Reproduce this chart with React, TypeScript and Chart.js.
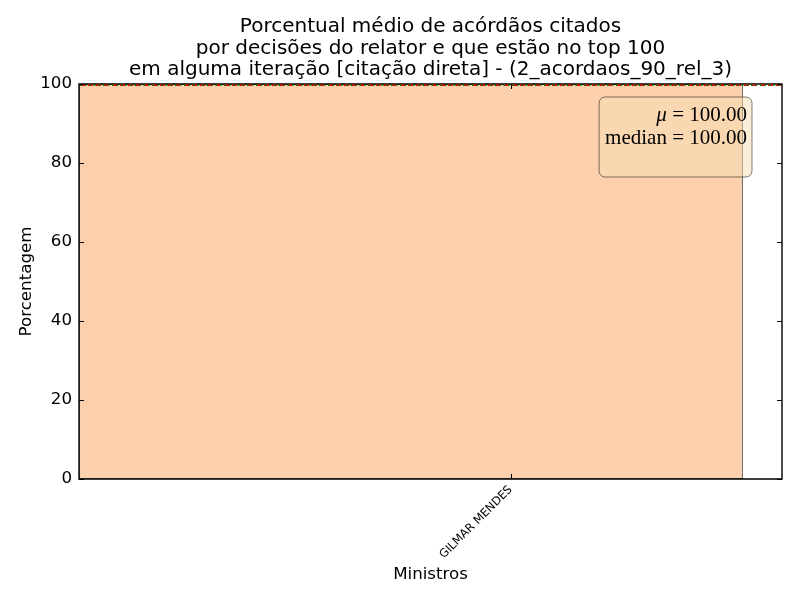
import React, { useEffect, useRef } from "react";
import { Chart, registerables } from "chart.js";

Chart.register(...registerables);

// ---- data ----
const CATEGORIES = ["GILMAR MENDES"];
const VALUES = [100];
const BAR_STARTS = [0];
const BAR_WIDTH = 0.8;
const TICK_POSITIONS = [0.52];
const X_MIN = 0;
const X_MAX = 0.847;
const Y_MIN = 0;
const Y_MAX = 100;
const Y_STEP = 20;
const TITLE_LINES = [
  "Porcentual médio de acórdãos citados",
  "por decisões do relator e que estão no top 100",
  "em alguma iteração [citação direta] - (2_acordaos_90_rel_3)",
];
const X_LABEL = "Ministros";
const Y_LABEL = "Porcentagem";

const mean = VALUES.reduce((a, b) => a + b, 0) / VALUES.length;
const sorted = [...VALUES].sort((a, b) => a - b);
const median =
  sorted.length % 2
    ? sorted[(sorted.length - 1) / 2]
    : (sorted[sorted.length / 2 - 1] + sorted[sorted.length / 2]) / 2;

const SANS = "'DejaVu Sans', sans-serif";
const SERIF = "'Liberation Serif', serif";
const BOX_FS = 21;

const overlayPlugin = {
  id: "overlay",
  afterDraw(chart: any) {
    const { ctx, chartArea } = chart;
    const { left, right, top, bottom } = chartArea;
    const ys = chart.scales.y;
    const xs = chart.scales.x;
    ctx.save();

    // frame
    ctx.strokeStyle = "#000000";
    ctx.lineWidth = 1.4;
    ctx.beginPath();
    ctx.rect(left, top, right - left, bottom - top);
    ctx.stroke();

    // mean / median lines (partly below the top spine, as in matplotlib)
    const ym = Math.min(ys.getPixelForValue(mean), bottom) + 1.2;
    ctx.lineWidth = 1.5;
    ctx.strokeStyle = "#ff0000";
    ctx.setLineDash([5, 3]);
    ctx.beginPath();
    ctx.moveTo(left + 1, ym);
    ctx.lineTo(right - 1, ym);
    ctx.stroke();
    const yMed = Math.min(ys.getPixelForValue(median), bottom) + 1.2;
    ctx.strokeStyle = "#008000";
    ctx.setLineDash([1.5, 3]);
    ctx.lineDashOffset = -5;
    ctx.beginPath();
    ctx.moveTo(left + 1, yMed);
    ctx.lineTo(right - 1, yMed);
    ctx.stroke();
    ctx.setLineDash([]);
    ctx.lineDashOffset = 0;

    // inward ticks
    const TL = 5;
    ctx.strokeStyle = "#000000";
    ctx.lineWidth = 1;
    ctx.beginPath();
    for (let v = Y_MIN; v <= Y_MAX; v += Y_STEP) {
      const y = Math.round(ys.getPixelForValue(v)) + 0.5;
      ctx.moveTo(left, y);
      ctx.lineTo(left + TL, y);
      ctx.moveTo(right, y);
      ctx.lineTo(right - TL, y);
    }
    TICK_POSITIONS.forEach((t) => {
      const x = Math.round(xs.getPixelForValue(t)) + 0.5;
      ctx.moveTo(x, bottom);
      ctx.lineTo(x, bottom - TL);
      ctx.moveTo(x, top);
      ctx.lineTo(x, top + TL);
    });
    ctx.stroke();

    // stats box
    const numStr = ` = ${mean.toFixed(2)}`;
    const line2 = `median = ${median.toFixed(2)}`;
    ctx.font = `italic ${BOX_FS}px ${SERIF}`;
    const muW = ctx.measureText("μ").width;
    ctx.font = `${BOX_FS}px ${SERIF}`;
    const numW = ctx.measureText(numStr).width;
    const w2 = ctx.measureText(line2).width;
    const textW = Math.max(muW + numW, w2);
    const boxRight = right - 30;
    const boxTop = top + 13;
    const boxLeft = boxRight - textW - 11;
    const boxBottom = top + 93;
    const r = 6;
    ctx.beginPath();
    ctx.moveTo(boxLeft + r, boxTop);
    ctx.lineTo(boxRight - r, boxTop);
    ctx.arcTo(boxRight, boxTop, boxRight, boxTop + r, r);
    ctx.lineTo(boxRight, boxBottom - r);
    ctx.arcTo(boxRight, boxBottom, boxRight - r, boxBottom, r);
    ctx.lineTo(boxLeft + r, boxBottom);
    ctx.arcTo(boxLeft, boxBottom, boxLeft, boxBottom - r, r);
    ctx.lineTo(boxLeft, boxTop + r);
    ctx.arcTo(boxLeft, boxTop, boxLeft + r, boxTop, r);
    ctx.closePath();
    ctx.fillStyle = "rgba(245,222,179,0.5)";
    ctx.fill();
    ctx.strokeStyle = "rgba(0,0,0,0.5)";
    ctx.lineWidth = 1;
    ctx.stroke();

    const textRight = boxRight - 5;
    ctx.fillStyle = "#000";
    ctx.textBaseline = "alphabetic";
    ctx.textAlign = "right";
    ctx.font = `${BOX_FS}px ${SERIF}`;
    ctx.fillText(numStr, textRight, boxTop + 24);
    ctx.font = `italic ${BOX_FS}px ${SERIF}`;
    ctx.fillText("μ", textRight - numW, boxTop + 24);
    ctx.font = `${BOX_FS}px ${SERIF}`;
    ctx.fillText(line2, textRight, boxTop + 47);

    // title
    const cx = (left + right) / 2;
    ctx.textAlign = "center";
    ctx.font = `20px ${SANS}`;
    const baselines = [32, 54, 75];
    TITLE_LINES.forEach((l, i) => ctx.fillText(l, cx, baselines[i]));

    // axis labels
    ctx.font = `16.67px ${SANS}`;
    ctx.fillText(X_LABEL, cx, 579);
    ctx.save();
    ctx.translate(31, (top + bottom) / 2);
    ctx.rotate(-Math.PI / 2);
    ctx.textAlign = "center";
    ctx.fillText(Y_LABEL, 0, 0);
    ctx.restore();

    ctx.restore();
  },
};

export default function App() {
  const ref = useRef<HTMLCanvasElement>(null);
  useEffect(() => {
    document.body.style.margin = "0";
    const canvas = ref.current!;
    const chart = new Chart(canvas, {
      type: "bar",
      data: {
        datasets: [
          {
            data: VALUES.map((v, i) => ({ x: BAR_STARTS[i] + BAR_WIDTH / 2, y: v })),
            backgroundColor: "rgb(252,208,173)",
            borderColor: "rgba(100,80,65,0.85)",
            borderWidth: 1.3,
            borderSkipped: false,
            barPercentage: 1,
            categoryPercentage: BAR_WIDTH / (X_MAX - X_MIN),
          },
        ],
      },
      options: {
        animation: false,
        responsive: false,
        devicePixelRatio: 1,
        layout: { padding: { top: 84, right: 18, left: 0, bottom: 0 } },
        plugins: { legend: { display: false }, tooltip: { enabled: false }, title: { display: false } },
        scales: {
          x: {
            type: "linear",
            offset: false,
            min: X_MIN,
            max: X_MAX,
            grid: { display: false, drawTicks: false, offset: false },
            border: { display: false },
            afterBuildTicks: (scale: any) => {
              scale.ticks = TICK_POSITIONS.map((v) => ({ value: v }));
            },
            afterFit: (scale: any) => {
              scale.height = 121;
            },
            ticks: {
              autoSkip: false,
              minRotation: 45,
              maxRotation: 45,
              padding: 4,
              color: "#000",
              font: { family: SANS, size: 11.5 },
              callback: (_v: any, i: number) => CATEGORIES[i],
            },
          },
          y: {
            min: Y_MIN,
            max: Y_MAX,
            grid: { display: false, drawTicks: false },
            border: { display: false },
            afterFit: (scale: any) => {
              scale.width = 79;
            },
            ticks: {
              stepSize: Y_STEP,
              padding: 7,
              color: "#000",
              font: { family: SANS, size: 16.67 },
            },
          },
        },
      },
      plugins: [overlayPlugin],
    });
    return () => chart.destroy();
  }, []);
  return (
    <div style={{ position: "fixed", left: 0, top: 0, width: 800, height: 600, background: "#fff" }}>
      <canvas ref={ref} width={800} height={600} />
    </div>
  );
}
